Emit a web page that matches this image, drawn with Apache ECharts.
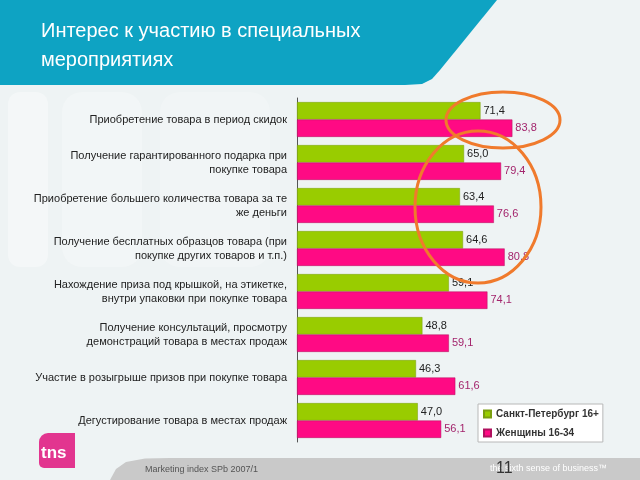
<!DOCTYPE html>
<html>
<head>
<meta charset="utf-8">
<script src="https://cdn.jsdelivr.net/npm/echarts@6/dist/echarts.min.js"></script>
<style>
  html, body { margin: 0; padding: 0; background: #eef3f4; }
  #chart { width: 640px; height: 480px; }
</style>
</head>
<body>
<div id="chart"></div>
<script>
// категории (сверху вниз)
const categories = [
  'Приобретение товара в период скидок',
  'Получение гарантированного подарка при\nпокупке товара',
  'Приобретение большего количества товара за те\nже деньги',
  'Получение бесплатных образцов товара (при\nпокупке других товаров и т.п.)',
  'Нахождение приза под крышкой, на этикетке,\nвнутри упаковки при покупке товара',
  'Получение консультаций, просмотру\nдемонстраций товара в местах продаж',
  'Участие в розыгрыше призов при покупке товара',
  'Дегустирование товара в местах продаж'
];
const seriesNames = ['Санкт-Петербург 16+', 'Женщины 16-34'];
const spbValues = [71.4, 65.0, 63.4, 64.6, 59.1, 48.8, 46.3, 47.0];
const womenValues = [83.8, 79.4, 76.6, 80.8, 74.1, 59.1, 61.6, 56.1];

const chart = echarts.init(document.getElementById('chart'));

// запятая вместо точки
const fmt = (p) => p.value.toFixed(1).replace('.', ',');

const option = {
  backgroundColor: '#eef3f4',
  animation: false,
  textStyle: { fontFamily: 'Liberation Sans, Arial, sans-serif' },
  title: {
    text: 'Интерес к участию в специальных\nмероприятиях',
    left: 36,
    top: 12,
    textStyle: { color: '#fff', fontSize: 20, fontWeight: 'normal', lineHeight: 29 }
  },
  legend: {
    orient: 'vertical',
    left: 478,
    top: 404,
    icon: 'rect',
    itemWidth: 7,
    itemHeight: 7,
    itemGap: 9,
    backgroundColor: '#fff',
    borderColor: '#b8b8b8',
    borderWidth: 1,
    padding: [5, 4, 4, 5],
    textStyle: { fontSize: 10, fontWeight: 'bold', color: '#333' },
    data: seriesNames
  },
  grid: { left: 297, right: 86, top: 98, bottom: 38 },
  xAxis: {
    type: 'value',
    min: 0,
    max: 100,
    show: false
  },
  yAxis: {
    type: 'category',
    inverse: true,
    data: categories,
    axisLine: { lineStyle: { color: '#555', width: 1 } },
    axisTick: { length: 5, lineStyle: { color: '#555' } },
    axisLabel: { fontSize: 11, color: '#222', lineHeight: 14, margin: 10, align: 'right' }
  },
  series: [
    {
      name: seriesNames[0],
      type: 'bar',
      data: spbValues,
      barGap: '0%',
      barCategoryGap: '19%',
      itemStyle: { color: '#99cc00', borderColor: '#7a9e10', borderWidth: 0.5 },
      label: { show: true, position: 'right', distance: 3, formatter: fmt, fontSize: 11, color: '#222' }
    },
    {
      name: seriesNames[1],
      type: 'bar',
      data: womenValues,
      itemStyle: { color: '#ff0a84', borderColor: '#b0105f', borderWidth: 0.5 },
      label: { show: true, position: 'right', distance: 3, formatter: fmt, fontSize: 11, color: '#a3246c' }
    }
  ],
  graphic: [
    // бледные фоновые пятна
    { type: 'rect', z: -10, shape: { x: 8, y: 92, width: 40, height: 175, r: 12 }, style: { fill: 'rgba(255,255,255,0.35)' } },
    { type: 'rect', z: -10, shape: { x: 62, y: 92, width: 80, height: 175, r: 20 }, style: { fill: 'rgba(255,255,255,0.25)' } },
    { type: 'rect', z: -10, shape: { x: 160, y: 92, width: 110, height: 175, r: 20 }, style: { fill: 'rgba(255,255,255,0.2)' } },
    // плашка заголовка
    {
      type: 'polygon', z: -5,
      shape: { points: [[0, 0], [497, 0], [440, 70], [432, 79], [422, 84], [405, 85], [0, 85]] },
      style: { fill: '#0ea3c3' }
    },
    // нижняя серая полоса
    {
      type: 'polygon', z: -5,
      shape: { points: [[110, 480], [116, 469], [126, 462], [145, 458.5], [170, 458], [640, 458], [640, 480]] },
      style: { fill: '#c9c9c9' }
    },
    // логотип tns
    {
      type: 'rect', z: 5,
      shape: { x: 39, y: 433, width: 36, height: 35, r: [9, 0, 0, 5] },
      style: { fill: '#e2358f' }
    },
    { type: 'text', z: 6, left: 41, top: 445, style: { text: 'tns', fill: '#fff', font: 'bold 17px Liberation Sans, Arial' } },
    { type: 'text', z: 6, left: 145, top: 465, style: { text: 'Marketing index SPb 2007/1', fill: '#555', font: '9px Liberation Sans, Arial' } },
    { type: 'text', z: 6, left: 490, top: 464, style: { text: 'the sixth sense of business\u2122', fill: '#fff', font: '9px Liberation Sans, Arial' } },
    { type: 'text', z: 7, left: 496, top: 461, style: { text: '11', fill: '#333', font: '16px Liberation Sans, Arial' } },
    // оранжевые овалы
    {
      type: 'ellipse', z: 20,
      shape: { cx: 503, cy: 120, rx: 57, ry: 28 },
      style: { fill: 'none', stroke: '#f07a2c', lineWidth: 3 }
    },
    {
      type: 'ellipse', z: 20,
      shape: { cx: 478, cy: 207, rx: 63, ry: 76 },
      style: { fill: 'none', stroke: '#f07a2c', lineWidth: 3 }
    }
  ]
};

chart.setOption(option);
window.addEventListener('resize', () => chart.resize());
</script>
</body>
</html>
